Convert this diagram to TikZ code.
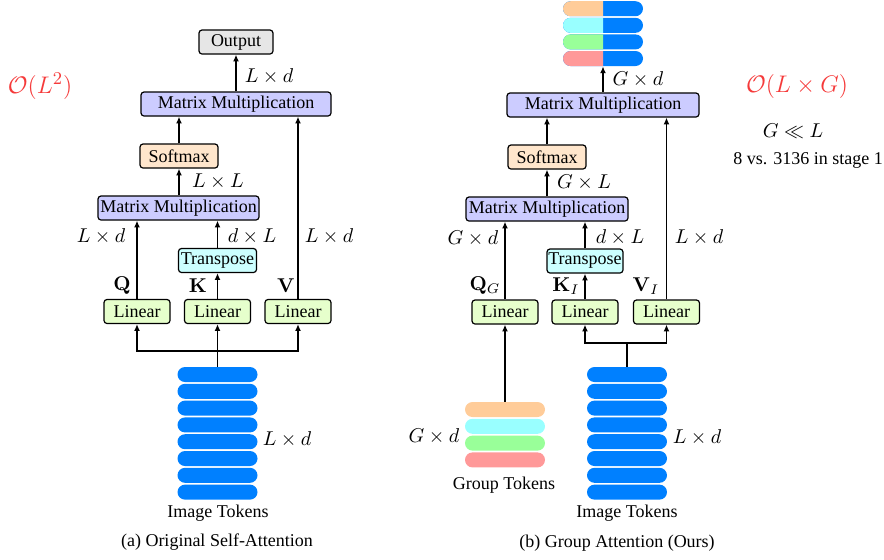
\documentclass[tikz,border=0pt]{standalone}
\usepackage[no-math]{fontspec}
\setmainfont{Liberation Serif}
\usetikzlibrary{arrows.meta,shapes.misc}

\definecolor{mmcol}{HTML}{CCCCFF}
\definecolor{smcol}{HTML}{FFE6CC}
\definecolor{trcol}{HTML}{CCFFFF}
\definecolor{lincol}{HTML}{E6FFCC}
\definecolor{outcol}{HTML}{E6E6E6}
\definecolor{tokblue}{HTML}{0080FF}
\definecolor{gpeach}{HTML}{FFCC99}
\definecolor{gcyan}{HTML}{99FFFF}
\definecolor{ggreen}{HTML}{99FF99}
\definecolor{gpink}{HTML}{FF9999}
\definecolor{costred}{HTML}{F53A3A}

\begin{document}
\begin{tikzpicture}[x=0.5pt,y=-0.5pt,
    font=\fontsize{9}{11}\selectfont,
    blk/.style={draw, rounded corners=1.5pt, line width=0.6pt, inner sep=0pt, minimum height=12pt},
    arr/.style={-{Latex[length=3.4pt,width=3pt]}, line width=0.7pt},
    dim/.style={font=\fontsize{10}{12}\selectfont, inner sep=0pt},
    cost/.style={font=\fontsize{13}{15}\selectfont, text=costred, inner sep=0pt},
    pill/.style={rounded rectangle, fill=tokblue, minimum width=40pt, minimum height=7.5pt, inner sep=0pt}]
    \useasboundingbox (0,0) rectangle (884,559);

    % (a) plain self-attention
    \node[blk, fill=outcol, minimum width=37pt] (outA) at (236,42) {Output};
    \node[blk, fill=mmcol, minimum width=95pt] (mmA) at (236,104) {Matrix Multiplication};
    \node[blk, fill=smcol, minimum width=39pt] (smA) at (179,156) {Softmax};
    \node[blk, fill=mmcol, minimum width=80.5pt] (mmsA) at (178.5,208) {Matrix Multiplication};
    \node[blk, fill=trcol, minimum width=39pt] (trA) at (217.5,260.5) {Transpose};
    \node[blk, fill=lincol, minimum width=33pt] (linQA) at (137,311.5) {Linear};
    \node[blk, fill=lincol, minimum width=33pt] (linKA) at (217.5,311.5) {Linear};
    \node[blk, fill=lincol, minimum width=33pt] (linVA) at (298,311.5) {Linear};

    \foreach \i in {0,...,7}
        \node[pill] (tokA\i) at (217.5,{374.5+16.8*\i}) {};

    \coordinate (splitA) at (217.5,351);
    \draw[arr] (tokA0.north) -- (linKA.south);
    \draw[arr] (splitA) -| (linQA.south);
    \draw[arr] (splitA) -| (linVA.south);
    \draw[arr] (linQA.north) -- (linQA |- mmsA.south);
    \draw[arr] (linKA.north) -- (trA.south);
    \draw[arr] (trA.north) -- (trA |- mmsA.south);
    \draw[arr] (linVA.north) -- (linVA |- mmA.south);
    \draw[arr] (mmsA.north -| smA) -- (smA.south);
    \draw[arr] (smA.north) -- (smA |- mmA.south);
    \draw[arr] (mmA.north) -- (outA.south);

    \node[dim] (dimA1) at (269,76) {$L\times d$};
    \node[dim] (dimA2) at (218,181) {$L\times L$};
    \node[dim] (dimA3) at (101,236) {$L\times d$};
    \node[dim] (dimA4) at (252,236) {$d\times L$};
    \node[dim] (dimA5) at (329,236) {$L\times d$};
    \node[dim] (qA) at (122,286) {$\mathbf{Q}$};
    \node[dim] (kA) at (198,286) {$\mathbf{K}$};
    \node[dim] (vA) at (286,286) {$\mathbf{V}$};
    \node[dim] (dimA6) at (287,439) {$L\times d$};
    \node (imgA) at (218,513) {Image Tokens};
    \node (capA) at (217,542) {(a) Original Self-Attention};
    \node[cost] (costA) at (40,86) {$\mathcal{O}(L^2)$};

    % (b) group attention
    \node[blk, fill=mmcol, minimum width=96pt] (mmB) at (603,105) {Matrix Multiplication};
    \node[blk, fill=smcol, minimum width=39pt] (smB) at (547,157) {Softmax};
    \node[blk, fill=mmcol, minimum width=81pt] (mmsB) at (547,209) {Matrix Multiplication};
    \node[blk, fill=trcol, minimum width=38pt] (trB) at (585,261) {Transpose};
    \node[blk, fill=lincol, minimum width=33pt] (linQB) at (505,312) {Linear};
    \node[blk, fill=lincol, minimum width=33pt] (linKB) at (585,312) {Linear};
    \node[blk, fill=lincol, minimum width=33pt] (linVB) at (666.5,312) {Linear};

    % output tokens: group colour on the left half
    \foreach \c [count=\i from 0] in {gpeach,gcyan,ggreen,gpink}{
        \node[pill] (outB\i) at (603,{8.7+16.6*\i}) {};
        \begin{scope}
            \clip (outB\i.west |- outB\i.south) rectangle (outB\i.north);
            \node[pill, fill=\c] at (outB\i) {};
        \end{scope}
    }

    \foreach \c [count=\i from 0] in {gpeach,gcyan,ggreen,gpink}
        \node[pill, fill=\c] (grpB\i) at (505,{409.5+16.8*\i}) {};
    \foreach \i in {0,...,7}
        \node[pill] (tokB\i) at (627,{374.5+16.8*\i}) {};

    \coordinate (splitB) at (627,343);
    \draw[line width=0.7pt] (tokB0.north) -- (splitB);
    \draw[arr] (splitB) -| (linKB.south);
    \draw[arr] (splitB) -| (linVB.south);
    \draw[arr] (grpB0.north) -- (linQB.south);
    \draw[arr] (linQB.north) -- (linQB |- mmsB.south);
    \draw[arr] (linKB.north) -- (trB.south);
    \draw[arr] (trB.north) -- (trB |- mmsB.south);
    \draw[arr] (linVB.north) -- (linVB |- mmB.south);
    \draw[arr] (mmsB.north) -- (smB.south);
    \draw[arr] (smB.north) -- (smB |- mmB.south);
    \draw[arr] (mmB.north) -- (outB3.south);

    \node[dim] (dimB1) at (638,79) {$G\times d$};
    \node[dim] (dimB2) at (584,182) {$G\times L$};
    \node[dim] (dimB3) at (473,238) {$G\times d$};
    \node[dim] (dimB4) at (620,237) {$d\times L$};
    \node[dim] (dimB5) at (699,237) {$L\times d$};
    \node[dim] (qB) at (485,286) {$\mathbf{Q}_G$};
    \node[dim] (kB) at (566,286) {$\mathbf{K}_I$};
    \node[dim] (vB) at (646,286) {$\mathbf{V}_I$};
    \node[dim] (dimB6) at (434,436) {$G\times d$};
    \node[dim] (dimB7) at (697,437) {$L\times d$};
    \node (grpLbl) at (504,485) {Group Tokens};
    \node (imgB) at (627,513) {Image Tokens};
    \node (capB) at (617,543) {(b) Group Attention (Ours)};

    \node[cost] (costB) at (797,86) {$\mathcal{O}(L\times G)$};
    \node[dim] (ratio) at (793,131) {$G\ll L$};
    \node (stage) at (808,160) {8 vs. 3136 in stage 1};
\end{tikzpicture}
\end{document}
